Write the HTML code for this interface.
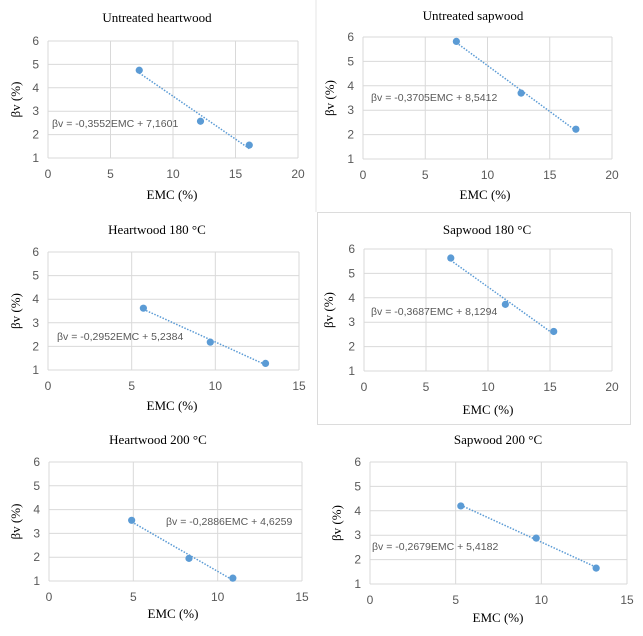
<!DOCTYPE html>
<html><head><meta charset="utf-8"><style>
body{margin:0;background:#fff;}
svg{display:block;}
.t{font-family:"Liberation Serif",serif;font-size:13px;fill:#000;}
.k{font-family:"Liberation Sans",sans-serif;font-size:12px;fill:#595959;}
.e{font-family:"Liberation Sans",sans-serif;font-size:10.5px;fill:#595959;}
</style></head><body>
<svg id="c" width="643" height="636" xmlns="http://www.w3.org/2000/svg">
<line x1="316" y1="0" x2="316" y2="212" stroke="#e4e4e4"/>
<rect x="317.5" y="212.5" width="313" height="212" fill="none" stroke="#dcdcdc"/>
</svg>
<script>
const titles=["Untreated heartwood","Untreated sapwood","Heartwood 180 °C","Sapwood 180 °C","Heartwood 200 °C","Sapwood 200 °C"];
const equations=["βv = -0,3552EMC + 7,1601","βv = -0,3705EMC + 8,5412","βv = -0,2952EMC + 5,2384","βv = -0,3687EMC + 8,1294","βv = -0,2886EMC + 4,6259","βv = -0,2679EMC + 5,4182"];
const xMaxes=[20,20,15,20,15,15];
const xs1=[7.3,12.2,16.1];const ys1=[4.75,2.57,1.55];
const xs2=[7.5,12.7,17.1];const ys2=[5.82,3.7,2.22];
const xs3=[5.7,9.7,13.0];const ys3=[3.62,2.18,1.28];
const xs4=[7.0,11.4,15.3];const ys4=[5.63,3.73,2.62];
const xs5=[4.9,8.3,10.9];const ys5=[3.55,1.95,1.12];
const xs6=[5.3,9.7,13.2];const ys6=[4.2,2.88,1.65];
const yTicks=[1,2,3,4,5,6];
const X=[xs1,xs2,xs3,xs4,xs5,xs6],Y=[ys1,ys2,ys3,ys4,ys5,ys6];
const L=[{x0:48,x1:298,y6:41,y1:158,tx:157,ty:22,ex:52,ey:127,lx:20,ax:172,ay:199},
{x0:363,x1:612,y6:37,y1:159,tx:473,ty:20,ex:371,ey:101,lx:334,ax:485,ay:199},
{x0:48,x1:299,y6:252,y1:370,tx:157,ty:234,ex:57,ey:340,lx:20,ax:172,ay:410},
{x0:364,x1:612,y6:249,y1:371,tx:487,ty:234,ex:371,ey:315,lx:333,ax:488,ay:414},
{x0:49,x1:302,y6:462,y1:581,tx:158,ty:444,ex:166,ey:525,lx:20,ax:173,ay:618},
{x0:370,x1:627,y6:462,y1:584,tx:498,ty:444,ex:372,ey:550,lx:341,ax:498,ay:622}];
const svg=document.getElementById('c');const NS='http://www.w3.org/2000/svg';
function mk(t,a,p){const e=document.createElementNS(NS,t);for(const k in a)e.setAttribute(k,a[k]);(p||svg).appendChild(e);return e;}
L.forEach((l,i)=>{
 const g=mk('g',{});
 
 
 const xm=xMaxes[i];
 const sx=v=>l.x0+(l.x1-l.x0)*v/xm, sy=v=>l.y1-(l.y1-l.y6)*(v-1)/5;
 for(let v=0;v<=xm;v+=5){
  const gl=mk('line',{x1:sx(v),x2:sx(v),y1:l.y6,y2:l.y1,stroke:'#d9d9d9'},g);
  
  
  const t=mk('text',{x:sx(v),y:l.y1+20,'text-anchor':'middle',class:'k'},g);t.textContent=v;
  
  
 }
 yTicks.forEach(v=>{
  const gl=mk('line',{x1:l.x0,x2:l.x1,y1:sy(v),y2:sy(v),stroke:'#d9d9d9'},g);
  
  
  const t=mk('text',{x:l.x0-9,y:sy(v)+4,'text-anchor':'end',class:'k'},g);t.textContent=v;
  
  
 });
 const tt=mk('text',{x:l.tx,y:l.ty,'text-anchor':'middle',class:'t'},g);tt.textContent=titles[i];
 
 
 const ax=mk('text',{x:l.ax,y:l.ay,'text-anchor':'middle',class:'t'},g);ax.textContent='EMC (%)';
 
 
 const cy=(l.y6+l.y1)/2;
 const ay=mk('text',{x:l.lx,y:cy,'text-anchor':'middle',class:'t',transform:`rotate(-90 ${l.lx} ${cy})`},g);ay.textContent='βv (%)';
 
 
 const xs=X[i],ys=Y[i],n=xs.length;
 const mx=xs.reduce((a,b)=>a+b)/n,my=ys.reduce((a,b)=>a+b)/n;
 let sxy=0,sxx=0;xs.forEach((x,j)=>{sxy+=(x-mx)*(ys[j]-my);sxx+=(x-mx)**2;});
 const b=sxy/sxx,a=my-b*mx,xa=Math.min(...xs),xb=Math.max(...xs);
 const tl=mk('line',{x1:sx(xa),y1:sy(a+b*xa),x2:sx(xb),y2:sy(a+b*xb),stroke:'#5b9bd5','stroke-width':1.5,'stroke-dasharray':'1.5 1.5'},g);
 
 
 xs.forEach((x,j)=>{
  const c=mk('circle',{cx:sx(x),cy:sy(ys[j]),r:3.6,fill:'#5b9bd5'},g);
  
  
 });
 const eq=mk('text',{x:l.ex,y:l.ey,class:'e'},g);eq.textContent=equations[i];
 
 
});
</script>
</body></html>
